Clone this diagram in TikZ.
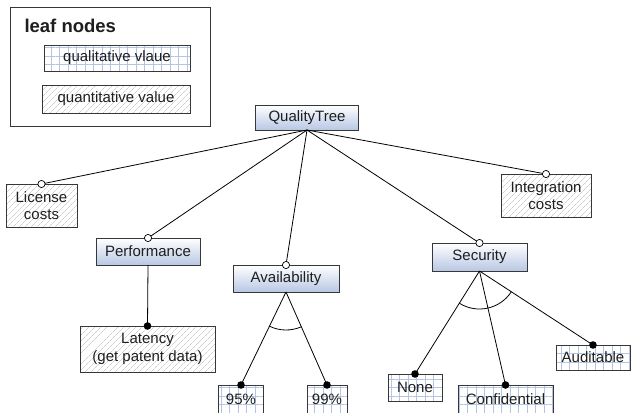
\documentclass[tikz,border=0pt]{standalone}
\usepackage{fontspec}
\setmainfont{Liberation Sans}
\usetikzlibrary{patterns.meta,calc}

\definecolor{edge}{RGB}{55,55,55}
\definecolor{ink}{RGB}{30,30,30}
\definecolor{gridblue}{RGB}{180,196,226}
\definecolor{hatchgray}{RGB}{178,178,178}
\definecolor{shade}{RGB}{184,199,228}

\tikzset{
  box/.style={draw=edge, line width=0.9pt, inner sep=0pt, outer sep=0pt,
              text=ink, align=center},
  inner/.style={box, top color=white, bottom color=shade},
  qual/.style={box, pattern={Hatch[angle=0,distance=8.5pt,line width=0.5pt]},
               pattern color=gridblue},
  quant/.style={box, pattern={Lines[angle=45,distance=4pt,line width=0.45pt]},
                pattern color=hatchgray},
  link/.style={draw=black, line width=0.8pt},
  opendot/.style={draw=black, line width=0.7pt, fill=white},
  solidot/.style={fill=black},
}

\begin{document}
\begin{tikzpicture}[x=1pt, y=-1pt, font=\fontsize{15}{17.5}\selectfont]
\useasboundingbox (0,0) rectangle (633,413);

% legend
\node[draw=edge, line width=0.9pt, minimum width=200pt, minimum height=119pt,
      inner sep=0pt] (legend) at (110,66.5) {};
\node[anchor=west, text=ink, font=\fontsize{18.5}{20}\selectfont\bfseries]
      (legendtitle) at (21,26) {leaf nodes};
\node[qual, minimum width=146pt, minimum height=26pt] (lqual) at (117,58)
      {qualitative vlaue};
\node[quant, minimum width=148pt, minimum height=28pt] (lquant) at (116,99)
      {quantitative value};

% tree nodes
\node[inner, minimum width=103pt, minimum height=25pt] (qt) at (307,117.5) {QualityTree};
\node[quant, minimum width=71pt, minimum height=43pt] (lic) at (41.5,205.5) {License\\costs};
\node[inner, minimum width=104pt, minimum height=27pt] (perf) at (148,251.5) {Performance};
\node[quant, minimum width=135pt, minimum height=46pt] (lat) at (147.5,349) {Latency\\(get patent data)};
\node[inner, minimum width=106pt, minimum height=27pt] (avail) at (286,278.5) {Availability};
\node[qual, minimum width=45pt, minimum height=28pt] (p95) at (241,399) {95\%};
\node[qual, minimum width=40pt, minimum height=28pt] (p99) at (327,399) {99\%};
\node[inner, minimum width=95pt, minimum height=28pt] (sec) at (479.5,257) {Security};
\node[qual, minimum width=54pt, minimum height=27pt] (none) at (415,387.5) {None};
\node[qual, minimum width=95pt, minimum height=28pt] (conf) at (505.5,399) {Confidential};
\node[qual, minimum width=74pt, minimum height=25pt] (aud) at (593,357.5) {Auditable};
\node[quant, minimum width=90pt, minimum height=43pt] (integ) at (546,195.5) {Integration\\costs};

% connectors
\foreach \n in {lic,perf,avail,sec,integ}
  \draw[link] (qt.south) -- (\n.north);
\draw[link] (perf.south) -- (lat.north);
\foreach \n in {p95,p99}
  \draw[link] (avail.south) -- (\n.north);
\foreach \n in {none,conf,aud}
  \draw[link] (sec.south) -- (\n.north);

% alternative-group arcs
\draw[link] let \p1=($(p95.north)-(avail.south)$), \p2=($(p99.north)-(avail.south)$),
  \n1={atan2(\y1,\x1)}, \n2={atan2(\y2,\x2)} in
  ($(avail.south)+(\n1:38pt)$) arc[start angle=\n1, end angle=\n2, radius=38pt];
\draw[link] let \p1=($(none.north)-(sec.south)$), \p2=($(aud.north)-(sec.south)$),
  \n1={atan2(\y1,\x1)}, \n2={atan2(\y2,\x2)} in
  ($(sec.south)+(\n1:38pt)$) arc[start angle=\n1, end angle=\n2, radius=38pt];

% connector end markers
\foreach \n in {lic,perf,avail,sec,integ}
  \draw[opendot] (\n.north) circle (3.6pt);
\foreach \n in {lat,p95,p99,none,conf,aud}
  \fill[solidot] (\n.north) circle (3.8pt);
\end{tikzpicture}
\end{document}
